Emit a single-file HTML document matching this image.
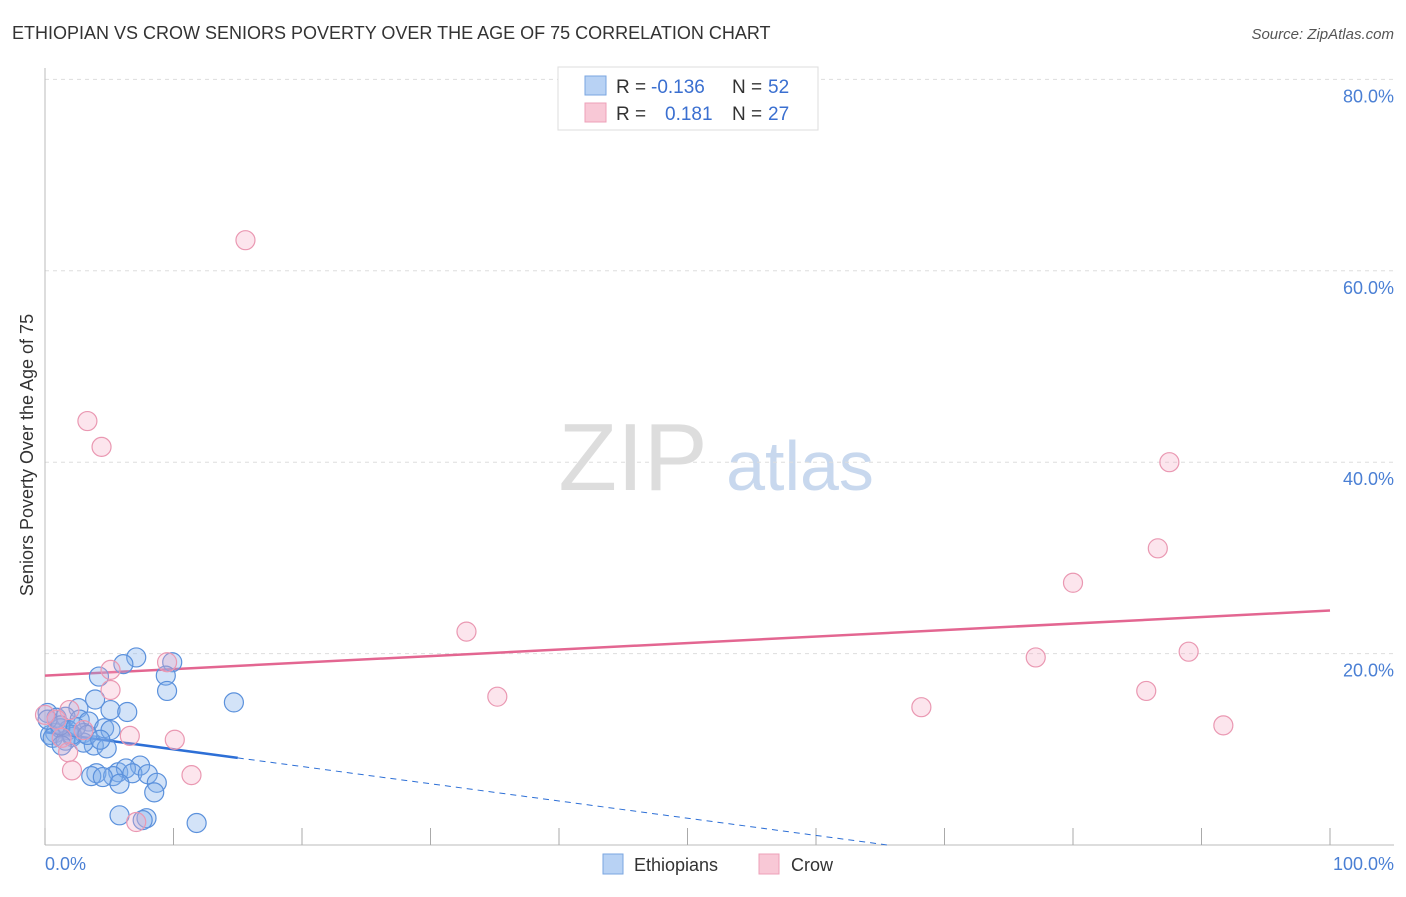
<!DOCTYPE html>
<html><head><meta charset="utf-8"><style>
body{margin:0;background:#fff;font-family:"Liberation Sans","DejaVu Sans",sans-serif;}
svg text{font-family:"Liberation Sans","DejaVu Sans",sans-serif;}
</style></head><body>
<svg id="chart" width="1406" height="892" xmlns="http://www.w3.org/2000/svg">
<text x="12" y="39" font-size="18" fill="#333">ETHIOPIAN VS CROW SENIORS POVERTY OVER THE AGE OF 75 CORRELATION CHART</text>
<text x="1394" y="39" font-size="15" fill="#555" font-style="italic" text-anchor="end">Source: ZipAtlas.com</text>
<text x="633" y="490" font-size="96" fill="#ddd" font-family="Liberation Serif,serif" text-anchor="middle">ZIP</text>
<text x="800" y="490" font-size="70" fill="#c8d8ee" text-anchor="middle">atlas</text>
<g id="grid"></g><g id="axes"></g><g id="trend"></g><g id="pts"></g>
<text x="33" y="455" font-size="18" fill="#333" text-anchor="middle" transform="rotate(-90 33 455)">Seniors Poverty Over the Age of 75</text>
<text x="45" y="870" font-size="18" fill="#4a7fd4">0.0%</text>
<text x="1394" y="870" font-size="18" fill="#4a7fd4" text-anchor="end">100.0%</text>
<g>
<rect x="558" y="67" width="260" height="63" fill="#fff" stroke="#ddd"/>
<rect x="585" y="76" width="21" height="19" fill="#b8d2f4" stroke="#7aa6e0"/>
<rect x="585" y="103" width="21" height="19" fill="#f8c8d6" stroke="#eea0b8"/>
<text x="616" y="93" font-size="19" fill="#333">R =</text>
<text x="651" y="93" font-size="19" fill="#3a6fd0">-0.136</text>
<text x="732" y="93" font-size="19" fill="#333">N =</text>
<text x="768" y="93" font-size="19" fill="#3a6fd0">52</text>
<text x="616" y="120" font-size="19" fill="#333">R =</text>
<text x="665" y="120" font-size="19" fill="#3a6fd0">0.181</text>
<text x="732" y="120" font-size="19" fill="#333">N =</text>
<text x="768" y="120" font-size="19" fill="#3a6fd0">27</text>
</g>
<g>
<rect x="603" y="854" width="20" height="20" fill="#b8d2f4" stroke="#7aa6e0"/>
<text x="634" y="871" font-size="18" fill="#333">Ethiopians</text>
<rect x="759" y="854" width="20" height="20" fill="#f8c8d6" stroke="#eea0b8"/>
<text x="791" y="871" font-size="18" fill="#333">Crow</text>
</g>
</svg>
<script>
const yTicks=[20,40,60,80];
const xTicks=[0,10,20,30,40,50,60,70,80,90,100];
const ethX=[7.1,6.1,9.9,4.2,9.4,9.5,3.9,14.7,2.6,5.1,6.4,0.2,0.9,1.6,2.7,3.4,4.6,1.8,3.0,0.8,0.4,1.2,0.2,2.1,3.8,4.8,0.6,1.6,3.0,2.1,4.0,5.7,7.4,6.3,5.3,6.8,8.0,3.6,4.5,5.8,8.7,8.5,5.8,7.9,7.6,11.8,1.2,2.4,5.1,3.3,1.3,4.3];
const ethY=[19.6,18.9,19.1,17.6,17.7,16.1,15.2,14.9,14.3,14.1,13.9,13.8,13.3,13.4,13.1,12.9,12.2,12.0,11.7,11.7,11.5,12.2,13.1,11.3,10.4,10.1,11.2,10.9,10.7,11.5,7.5,7.6,8.3,8.0,7.2,7.5,7.4,7.2,7.1,6.4,6.5,5.5,3.1,2.8,2.6,2.3,12.5,12.3,12.0,11.5,10.4,11.0];
const crowX=[15.6,3.3,4.4,5.1,5.1,9.5,1.9,0.9,1.3,3.0,6.6,10.1,11.4,2.1,1.8,7.1,32.8,35.2,87.5,86.6,80.0,77.1,89.0,85.7,68.2,91.7,0];
const crowY=[63.2,44.3,41.6,18.3,16.2,19.1,14.1,13.1,11.2,12.0,11.4,11.0,7.3,7.8,9.7,2.4,22.3,15.5,40.0,31.0,27.4,19.6,20.2,16.1,14.4,12.5,13.6];
const ethTrend=[11.8,-0.18];
const crowTrend=[17.7,0.068];
const X=v=>45+v*12.85, Y=v=>845-v*9.57;
const NS="http://www.w3.org/2000/svg";
function mk(p,t,a){const e=document.createElementNS(NS,t);for(const k in a)e.setAttribute(k,a[k]);document.getElementById(p).appendChild(e);return e;}
yTicks.forEach(t=>{
 const g=mk('grid','line',{x1:45,x2:1394,y1:Y(t),y2:Y(t),stroke:'#ddd','stroke-dasharray':'4,4'});
 
 
 const l=mk('grid','text',{x:1394,y:Y(t)+23,'font-size':18,fill:'#4a7fd4','text-anchor':'end'});
 l.textContent=t.toFixed(1)+'%';
 
 
});
const ax=mk('axes','line',{x1:45,x2:45,y1:68,y2:845,stroke:'#bbb'});


const bx=mk('axes','line',{x1:45,x2:1394,y1:845,y2:845,stroke:'#bbb'});


xTicks.forEach(t=>{
 const k=mk('axes','line',{x1:X(t),x2:X(t),y1:828,y2:845,stroke:'#aaa'});
 
 
});
const cl=mk('trend','line',{x1:X(0),y1:Y(crowTrend[0]),x2:X(100),y2:Y(crowTrend[0]+100*crowTrend[1]),stroke:'#e36691','stroke-width':2.5});


const el=mk('trend','line',{x1:X(0),y1:Y(ethTrend[0]),x2:X(15),y2:Y(ethTrend[0]+15*ethTrend[1]),stroke:'#2d6fd6','stroke-width':2.5});


const xe=-ethTrend[0]/ethTrend[1];
const ed=mk('trend','line',{x1:X(15),y1:Y(ethTrend[0]+15*ethTrend[1]),x2:X(xe),y2:Y(0),stroke:'#2d6fd6','stroke-width':1,'stroke-dasharray':'6,5'});


ethX.forEach((v,i)=>{
 const c=mk('pts','circle',{cx:X(v),cy:Y(ethY[i]),r:9.5,fill:'rgba(130,175,235,0.35)',stroke:'#5b91dc','stroke-width':1.2});
 
 
});
crowX.forEach((v,i)=>{
 const c=mk('pts','circle',{cx:X(v),cy:Y(crowY[i]),r:9.5,fill:'rgba(245,170,195,0.3)',stroke:'#ea98b2','stroke-width':1.2});
 
 
});
</script>
</body></html>
